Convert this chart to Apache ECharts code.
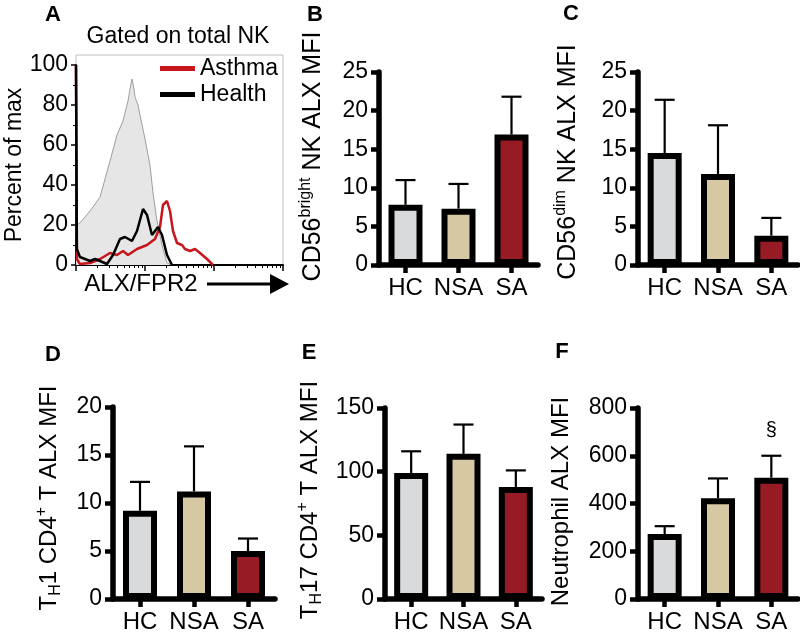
<!DOCTYPE html>
<html><head><meta charset="utf-8">
<script src="https://cdn.jsdelivr.net/npm/echarts@6/dist/echarts.min.js"></script>
<style>html,body{margin:0;padding:0;background:#fff}#c{width:800px;height:634px}</style>
</head><body><div id="c"></div>
<script>
// ---------- DATA ----------
const categories = ['HC', 'NSA', 'SA'];
const barColors = ['#d9dadc', '#d5c8a3', '#961b25'];

const meanB = [7.8, 7.3, 16.9];   const errB = [3.2, 3.2, 4.9];
const meanC = [14.5, 11.8, 3.8];  const errC = [6.9, 6.3, 2.3];
const meanD = [9.2, 11.2, 5.0];   const errD = [3.0, 4.7, 1.3];
const meanE = [99, 114, 88];      const errE = [17, 23, 13];
const meanF = [272, 422, 508];    const errF = [33, 83, 92];
const notesF = ['', '', '§'];

const ticksB = [0, 5, 10, 15, 20, 25];
const ticksD = [0, 5, 10, 15, 20];
const ticksE = [0, 50, 100, 150];
const ticksF = [0, 200, 400, 600, 800];
const ticksA = [0, 20, 40, 60, 80, 100];

// Panel A histogram (ALX/FPR2 fluorescence, % of max)
const isoX = [100, 114, 160, 223, 311, 393, 480, 567, 606, 648, 693, 716, 792, 847, 1000, 1181, 1306, 1493, 1763, 2084, 2462];
const isoY = [20, 21, 27, 34, 52, 65, 72, 82, 88, 93, 88, 84, 80, 75, 63, 50, 36, 22, 10, 1, 0];
const healthX = [100, 103, 114, 160, 188, 223, 281, 344, 434, 513, 648, 766, 936, 1069, 1262, 1543, 1763, 2084, 2462];
const healthY = [100, 8, 4, 2, 3, 2, 0.5, 5, 13, 14, 12, 17, 28, 25, 15, 19, 15, 5, 0];
const asthmaX = [100, 103, 114, 160, 223, 311, 393, 480, 567, 766, 1069, 1396, 1649, 1823, 2084, 2303, 2545, 2910, 3437, 3800, 4490, 5308, 6266, 7916, 9680];
const asthmaY = [100, 3, 0.5, 1, 3, 6, 5, 7, 5, 8, 10, 13, 19, 30, 32, 27, 17, 11, 10, 8, 7, 8, 6, 3, 0];

// ---------- CHART ----------
const FONT = '"Liberation Sans", Arial, Helvetica, sans-serif';
const chart = echarts.init(document.getElementById('c'), null, {renderer: 'canvas', width: 800, height: 634});

const zip = (xs, ys) => xs.map((x, i) => [x, ys[i]]);

const mkRich = (fs) => ({
  m: {fontSize: fs, lineHeight: fs + 6, color: '#000', fontFamily: FONT, verticalAlign: 'middle'},
  s: {fontSize: 16, lineHeight: 16, color: '#000', fontFamily: FONT, verticalAlign: 'top'},
  b: {fontSize: 16, lineHeight: 16, color: '#000', fontFamily: FONT, verticalAlign: 'bottom'}
});

const panels = [
  {key: 'B', grid: {left: 379, top: 72, width: 159, height: 193}, mean: meanB, err: errB, ticks: ticksB,
   name: '{m|CD56}{s|bright}{m| NK ALX MFI}', gap: 50, pad: 24, fs: 25},
  {key: 'C', grid: {left: 638, top: 72, width: 160, height: 193}, mean: meanC, err: errC, ticks: ticksB,
   name: '{m|CD56}{s|dim}{m| NK ALX MFI}', gap: 54, pad: 13, fs: 25},
  {key: 'D', grid: {left: 113, top: 407, width: 162, height: 194}, mean: meanD, err: errD, ticks: ticksD,
   name: '{m|T}{b|H}{m|1 CD4}{s|+}{m| T ALX MFI}', gap: 49, pad: 10, fs: 24},
  {key: 'E', grid: {left: 385, top: 408, width: 157, height: 193}, mean: meanE, err: errE, ticks: ticksE,
   name: '{m|T}{b|H}{m|17 CD4}{s|+}{m| T ALX MFI}', gap: 60, pad: 7, fs: 24},
  {key: 'F', grid: {left: 638, top: 408, width: 160, height: 192}, mean: meanF, err: errF, ticks: ticksF,
   name: '{m|Neutrophil ALX MFI}', gap: 62, pad: 4, fs: 24, notes: notesF}
];

const grids = [{left: 76, top: 65, width: 207, height: 200}];
const xAxes = [{
  type: 'log', logBase: 10, min: 100, max: 100000, gridIndex: 0,
  axisLine: {show: true, lineStyle: {color: '#000', width: 2}},
  axisTick: {show: true, length: 6, lineStyle: {color: '#000', width: 1.5}},
  minorTick: {show: true, splitNumber: 9, length: 3, lineStyle: {color: '#000', width: 1}},
  axisLabel: {show: false}, splitLine: {show: false}
}];
const yAxes = [{
  type: 'value', min: 0, max: 100, interval: 20, gridIndex: 0,
  axisLine: {show: true, lineStyle: {color: '#000', width: 2}},
  axisTick: {show: true, length: 5, lineStyle: {color: '#000', width: 1.5}},
  minorTick: {show: true, splitNumber: 2, length: 3, lineStyle: {color: '#000', width: 1}},
  axisLabel: {fontSize: 23, color: '#000', margin: 8, fontFamily: FONT},
  splitLine: {show: false},
  name: 'Percent of max', nameLocation: 'middle', nameRotate: 90, nameGap: 50,
  nameTextStyle: {fontSize: 23, color: '#000', fontFamily: FONT}
}];

const series = [
  {type: 'line', name: 'Isotype', xAxisIndex: 0, yAxisIndex: 0, data: zip(isoX, isoY), symbol: 'none',
   lineStyle: {color: '#9e9e9e', width: 1}, areaStyle: {color: '#e6e6e6', opacity: 1}, z: 1, silent: true},
  {type: 'line', name: 'Asthma', xAxisIndex: 0, yAxisIndex: 0, data: zip(asthmaX, asthmaY), symbol: 'none',
   itemStyle: {color: '#c8161d'}, lineStyle: {color: '#c8161d', width: 2.5}, z: 2},
  {type: 'line', name: 'Health', xAxisIndex: 0, yAxisIndex: 0, data: zip(healthX, healthY), symbol: 'none',
   itemStyle: {color: '#000'}, lineStyle: {color: '#000', width: 2.5}, z: 3}
];

panels.forEach((p, k) => {
  const gi = k + 1;
  grids.push(p.grid);
  xAxes.push({
    type: 'category', data: categories, gridIndex: gi,
    axisLine: {show: true, lineStyle: {color: '#000', width: 5.5}},
    axisTick: {show: true, alignWithLabel: true, length: 8, lineStyle: {color: '#000', width: 4.5}},
    axisLabel: {interval: 0, fontSize: 24, color: '#000', margin: 11, fontFamily: FONT},
    splitLine: {show: false}
  });
  yAxes.push({
    type: 'value', gridIndex: gi, min: 0, max: p.ticks[p.ticks.length - 1],
    interval: p.ticks[1] - p.ticks[0],
    axisLine: {show: true, lineStyle: {color: '#000', width: 5.5}},
    axisTick: {show: true, length: 8, lineStyle: {color: '#000', width: 4.5}},
    axisLabel: {fontSize: 23, color: '#000', margin: 11, fontFamily: FONT},
    splitLine: {show: false},
    name: p.name, nameLocation: 'middle', nameRotate: 90, nameGap: p.gap,
    nameTextStyle: {rich: mkRich(p.fs), padding: [0, 0, 0, p.pad]}
  });
  series.push({
    type: 'bar', xAxisIndex: gi, yAxisIndex: gi, barWidth: 34, z: 2,
    data: p.mean.map((v, i) => ({value: v, itemStyle: {color: barColors[i], borderColor: '#000', borderWidth: 6}}))
  });
  const notes = p.notes || [];
  series.push({
    type: 'custom', xAxisIndex: gi, yAxisIndex: gi, z: 3,
    data: p.mean.map((v, i) => [i, v, v + p.err[i]]),
    renderItem: (params, api) => {
      const x = api.value(0);
      const lo = api.coord([x, api.value(1)]);
      const hi = api.coord([x, api.value(2)]);
      const children = [
        {type: 'line', shape: {x1: lo[0], y1: lo[1], x2: hi[0], y2: hi[1]}, style: {stroke: '#000', lineWidth: 2.2}},
        {type: 'line', shape: {x1: hi[0] - 10, y1: hi[1], x2: hi[0] + 10, y2: hi[1]}, style: {stroke: '#000', lineWidth: 2.2}}
      ];
      const n = notes[params.dataIndex];
      if (n) children.push({type: 'text', x: hi[0], y: hi[1] - 25,
        style: {text: n, fill: '#000', font: '20px ' + FONT, align: 'center', verticalAlign: 'middle'}});
      return {type: 'group', children: children};
    }
  });
});

// frame box of panel A
grids.push({left: 76, top: 55, width: 207, height: 210, show: true, borderColor: '#bdbdbd', borderWidth: 1, backgroundColor: 'transparent', z: 0});
xAxes.push({type: 'value', gridIndex: 6, show: false});
yAxes.push({type: 'value', gridIndex: 6, show: false});

const letter = (t, x, y) => ({type: 'text', x: x, y: y, z: 10,
  style: {text: t, fill: '#000', font: 'bold 22px ' + FONT, align: 'center', verticalAlign: 'middle'}});

chart.setOption({
  animation: false,
  backgroundColor: '#fff',
  textStyle: {fontFamily: FONT},
  grid: grids, xAxis: xAxes, yAxis: yAxes, series: series,
  legend: {
    data: ['Asthma', 'Health'], orient: 'vertical', left: 160, top: 57, itemGap: 3,
    icon: 'rect', itemWidth: 35, itemHeight: 5, selectedMode: false, padding: 0,
    textStyle: {fontSize: 23, color: '#000', fontFamily: FONT}
  },
  graphic: [
    letter('A', 53, 15), letter('B', 315, 15), letter('C', 571, 14),
    letter('D', 53, 355), letter('E', 309, 353), letter('F', 562, 352),
    {type: 'text', x: 178, y: 37, style: {text: 'Gated on total NK', fill: '#000', font: '23px ' + FONT, align: 'center', verticalAlign: 'middle'}},
    {type: 'text', x: 141, y: 284, style: {text: 'ALX/FPR2', fill: '#000', font: '24px ' + FONT, align: 'center', verticalAlign: 'middle'}},
    {type: 'line', shape: {x1: 207, y1: 284, x2: 274, y2: 284}, style: {stroke: '#000', lineWidth: 3}},
    {type: 'polygon', shape: {points: [[270, 274], [289, 284], [270, 294]]}, style: {fill: '#000'}}
  ]
});
</script></body></html>
